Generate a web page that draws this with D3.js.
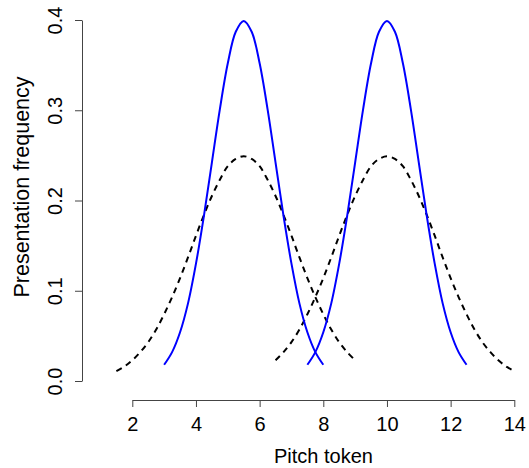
<!DOCTYPE html>
<html>
<head>
<meta charset="utf-8">
<script src="https://cdn.jsdelivr.net/npm/d3@7"></script>
<style>
  body { margin: 0; background: #fff; }
  svg { display: block; font-family: "Liberation Sans", Arial, Helvetica, sans-serif; }
</style>
</head>
<body>
<svg width="529" height="468"></svg>
<script>
// pitch token values and presentation frequencies
const narrowX1 = [3, 3.25, 3.5, 3.75, 4, 4.25, 4.5, 4.75, 5, 5.25, 5.5, 5.75, 6, 6.25, 6.5, 6.75, 7, 7.25, 7.5, 7.75, 8];
const narrowX2 = [7.5, 7.75, 8, 8.25, 8.5, 8.75, 9, 9.25, 9.5, 9.75, 10, 10.25, 10.5, 10.75, 11, 11.25, 11.5, 11.75, 12, 12.25, 12.5];
const narrowY = [0.018, 0.032, 0.054, 0.086, 0.130, 0.183, 0.242, 0.301, 0.352, 0.387, 0.399,
                 0.387, 0.352, 0.301, 0.242, 0.183, 0.130, 0.086, 0.054, 0.032, 0.018];

const wideX1 = [1.5, 1.75, 2, 2.25, 2.5, 2.75, 3, 3.25, 3.5, 3.75, 4, 4.25, 4.5, 4.75, 5, 5.25, 5.5,
                5.75, 6, 6.25, 6.5, 6.75, 7, 7.25, 7.5, 7.75, 8, 8.25, 8.5, 8.75, 9];
const wideY1 = [0.011, 0.016, 0.023, 0.032, 0.043, 0.057, 0.074, 0.093, 0.114, 0.137, 0.161, 0.184, 0.205, 0.223, 0.238, 0.246, 0.249,
                0.246, 0.238, 0.223, 0.205, 0.184, 0.161, 0.137, 0.114, 0.093, 0.074, 0.057, 0.043, 0.032, 0.023];
const wideX2 = [6.5, 6.75, 7, 7.25, 7.5, 7.75, 8, 8.25, 8.5, 8.75, 9, 9.25, 9.5, 9.75, 10,
                10.25, 10.5, 10.75, 11, 11.25, 11.5, 11.75, 12, 12.25, 12.5, 12.75, 13, 13.25, 13.5, 13.75, 14];
const wideY2 = [0.023, 0.032, 0.043, 0.057, 0.074, 0.093, 0.114, 0.137, 0.161, 0.184, 0.205, 0.223, 0.238, 0.246, 0.249,
                0.246, 0.238, 0.223, 0.205, 0.184, 0.161, 0.137, 0.114, 0.093, 0.074, 0.057, 0.043, 0.032, 0.023, 0.016, 0.011];

const xTicks = [2, 4, 6, 8, 10, 12, 14];
const yTicks = [0, 0.1, 0.2, 0.3, 0.4];

const svg = d3.select("svg");

const x = d3.scaleLinear().domain([2, 14]).range([132.3, 514.3]);
const y = d3.scaleLinear().domain([0, 0.4]).range([381, 20]);

const line = d3.line()
  .x(d => x(d[0]))
  .y(d => y(d[1]))
  .curve(d3.curveCatmullRom);

const series = [
  { xs: wideX1, ys: wideY1, color: "#000", dash: "6,5" },
  { xs: wideX2, ys: wideY2, color: "#000", dash: "6,5" },
  { xs: narrowX1, ys: narrowY, color: "#0000ff", dash: null },
  { xs: narrowX2, ys: narrowY, color: "#0000ff", dash: null },
];

series.forEach(s => {
  svg.append("path")
    .datum(s.xs.map((v, i) => [v, s.ys[i]]))
    .attr("fill", "none")
    .attr("stroke", s.color)
    .attr("stroke-width", 2)
    .attr("stroke-dasharray", s.dash)
    .attr("d", line);
});

// x axis
svg.append("g")
  .attr("transform", "translate(0,400)")
  .call(d3.axisBottom(x).tickValues(xTicks).tickSize(7).tickSizeOuter(0).tickPadding(10))
  .call(g => g.selectAll("path, line").attr("stroke", "#444"))
  .call(g => g.selectAll("text").attr("font-size", 20).attr("fill", "#000").attr("font-family", null));

// y axis, labels rotated like base R
svg.append("g")
  .attr("transform", "translate(82,0)")
  .call(d3.axisLeft(y).tickValues(yTicks).tickFormat(d3.format(".1f")).tickSize(7).tickSizeOuter(0))
  .call(g => g.selectAll("path, line").attr("stroke", "#444"))
  .call(g => g.selectAll("text")
    .attr("x", null).attr("dy", null)
    .attr("text-anchor", "middle")
    .attr("transform", "translate(-20,0) rotate(-90)")
    .attr("font-size", 20).attr("fill", "#000").attr("font-family", null));

svg.append("text")
  .attr("x", 323.5)
  .attr("y", 463)
  .attr("text-anchor", "middle")
  .attr("font-size", 20)
  .text("Pitch token");

svg.append("text")
  .attr("transform", "translate(29,187) rotate(-90)")
  .attr("text-anchor", "middle")
  .attr("font-size", 21.5)
  .text("Presentation frequency");
</script>
</body>
</html>
